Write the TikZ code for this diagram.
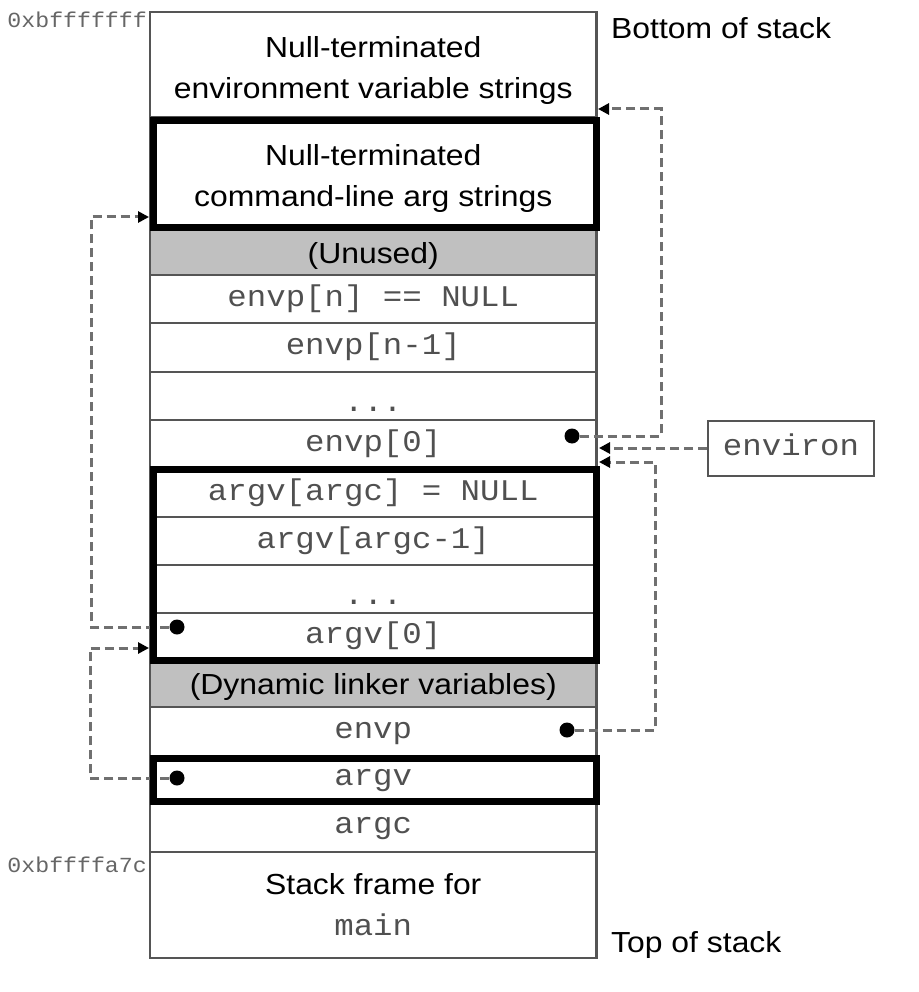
\documentclass[tikz,border=0pt]{standalone}
\usepackage{fontspec}
\setmainfont[FakeStretch=1.1]{Liberation Sans}
\newfontfamily\monof[FakeStretch=1.08]{Liberation Mono}
\usetikzlibrary{arrows.meta}
\definecolor{linegray}{HTML}{555555}
\definecolor{fillgray}{HTML}{C0C0C0}
\definecolor{dashgray}{HTML}{707070}
\definecolor{monogray}{HTML}{505050}
\begin{document}
\begin{tikzpicture}[x=1pt,y=-1pt,
  cell/.style={draw=linegray, line width=2.5pt, minimum width=446.5pt, inner sep=0pt, outer sep=0pt, anchor=north, align=center},
  sanstxt/.style={font=\fontsize{29}{41}\selectfont},
  graytxt/.style={sanstxt, text height=26pt, text depth=4pt},
  mono/.style={font=\monof\fontsize{30}{38}\selectfont, text=monogray, text height=21pt, text depth=7pt},
  dotsrow/.style={mono, text height=30pt, text depth=0pt},
  shaded/.style={fill=fillgray},
  bold frame/.style={draw=black, line width=7pt},
  ptr/.style={draw=dashgray, line width=3pt, dash pattern=on 9pt off 5pt, -{Triangle[length=11pt,width=11pt,color=black]}},
  dot/.style={circle, fill=black, minimum size=15pt, inner sep=0pt},
  addr/.style={font=\monof\fontsize{21.5}{24}\selectfont, text=black!60, anchor=east, inner sep=0pt},
  side/.style={sanstxt, anchor=west, inner sep=0pt},
  celltext/.style={sanstxt, align=center, yshift=-6pt}]
\useasboundingbox (0,0) rectangle (918,992);

% stack cells
\node[cell, minimum height=105pt, label={[celltext]center:{Null-terminated\\environment variable strings}}] (envstr) at (373.25,12) {};
\node[cell, minimum height=112pt, label={[celltext]center:{Null-terminated\\command-line arg strings}}] (cmdstr) at (373.25,117) {};
\node[cell, graytxt, shaded, minimum height=46pt] (unused) at (373.25,229) {(Unused)};
\node[cell, mono, minimum height=48pt] (envpn) at (373.25,275) {envp[n] == NULL};
\node[cell, mono, minimum height=49pt] (envpn1) at (373.25,323) {envp[n-1]};
\node[cell, dotsrow, minimum height=48pt] (envpdots) at (373.25,372) {...};
\node[cell, mono, minimum height=49pt] (envp0) at (373.25,420) {envp[0]};
\node[cell, mono, minimum height=48pt] (argvnull) at (373.25,469) {argv[argc] = NULL};
\node[cell, mono, minimum height=48pt] (argvc1) at (373.25,517) {argv[argc-1]};
\node[cell, dotsrow, minimum height=48pt] (argvdots) at (373.25,565) {...};
\node[cell, mono, minimum height=47pt] (argv0) at (373.25,613) {argv[0]};
\node[cell, graytxt, shaded, minimum height=47pt] (dyn) at (373.25,660) {(Dynamic linker variables)};
\node[cell, mono, minimum height=49pt] (envp) at (373.25,707) {envp};
\node[cell, mono, minimum height=45pt] (argv) at (373.25,756) {argv};
\node[cell, mono, minimum height=51pt] (argc) at (373.25,801) {argc};
\node[cell, sanstxt, minimum height=106pt] (frame) at (373.25,852) {Stack frame for\\{\monof\fontsize{30}{38}\selectfont\color{monogray}main}};

% side labels
\node[addr] (addrtop) at (147,20) {0xbfffffff};
\node[addr] (addrbot) at (147,865) {0xbffffa7c};
\node[side] (bottomlbl) at (611,28) {Bottom of stack};
\node[side] (toplbl) at (611,945) {Top of stack};
\node[draw=linegray, line width=2pt, minimum width=166pt, minimum height=55pt, inner sep=0pt, mono] (environ) at (791,448) {environ};

% pointer dots
\node[dot] (dA) at (572,436) {};
\node[dot] (dC) at (567,730) {};
\node[dot] (dD) at (177,627) {};
\node[dot] (dE) at (177,778) {};

% arrow targets
\coordinate (tA) at (598,109);
\coordinate (tB) at (599,448);
\coordinate (tC) at (599,462);
\coordinate (tD) at (149,217);
\coordinate (tE) at (149,648);

% connectors
\draw[ptr] (dA) -- ++(89,0) |- (tA);
\draw[ptr] (environ.west) -- (tB);
\draw[ptr] (dC) -- ++(88,0) |- (tC);
\draw[ptr] (dD) -- ++(-86,0) |- (tD);
\draw[ptr] (dE) -- ++(-87,0) |- (tE);

% bold frames
\draw[bold frame] (153,120.5) rectangle (596,227.5);
\draw[bold frame] (153,469) rectangle (596,660);
\draw[bold frame] (153,758) rectangle (596,801.5);
\end{tikzpicture}
\end{document}
